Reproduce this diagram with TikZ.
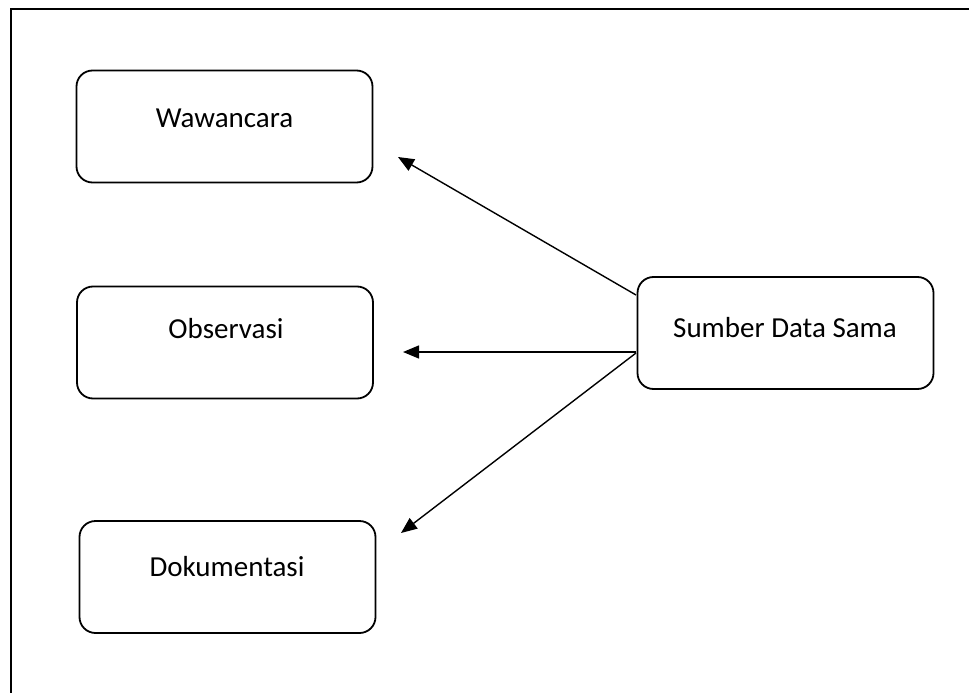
\documentclass[tikz,border=0pt]{standalone}
\usepackage{fontspec}
\setmainfont{Carlito}
\usetikzlibrary{arrows.meta}
\begin{document}
\begin{tikzpicture}[x=1pt,y=-1pt,
  box/.style={draw,line width=1.8pt,rounded corners=16pt,minimum width=296pt,minimum height=112pt,inner sep=0pt},
  lbl/.style={font=\fontsize{29}{34}\selectfont,inner sep=0pt,anchor=base},
  arr/.style={line width=1.4pt,-{Triangle[length=16pt,width=13pt]}}]
\useasboundingbox (0,0) rectangle (969,693);
\draw[line width=2.2pt] (11,700) -- (11,9) -- (980,9);
\node[box] (w) at (224.5,126.5) {};
\node[box] (o) at (225,342.5) {};
\node[box] (d) at (227.5,577) {};
\node[box] (s) at (785.5,333) {};
\node[lbl] (wt) at (224.5,127) {Wawancara};
\node[lbl] (ot) at (226,338) {Observasi};
\node[lbl] (dt) at (227,576) {Dokumentasi};
\node[lbl] (st) at (785,337) {Sumber Data Sama};
\coordinate (s1) at (636,295);
\coordinate (s2) at (636,352);
\coordinate (s3) at (636,353);
\coordinate (t1) at (398,157);
\coordinate (t2) at (403,352);
\coordinate (t3) at (401,533);
\draw[arr] (s1) -- (t1);
\draw[arr] (s2) -- (t2);
\draw[arr] (s3) -- (t3);
\end{tikzpicture}
\end{document}
